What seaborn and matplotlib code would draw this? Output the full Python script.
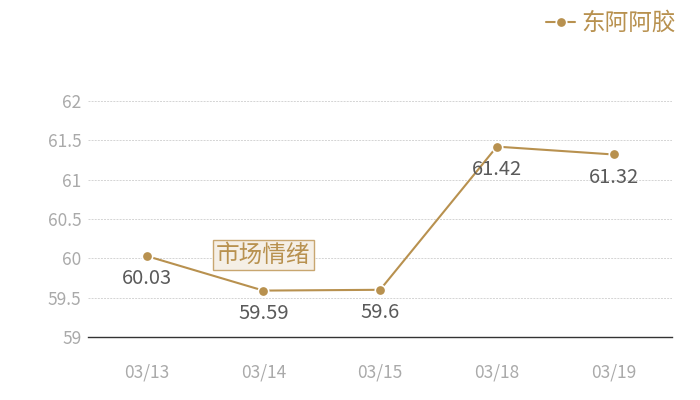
import matplotlib
matplotlib.use("Agg")
import matplotlib.pyplot as plt
import seaborn as sns
import pandas as pd

dates = ["03/13", "03/14", "03/15", "03/18", "03/19"]
values = [60.03, 59.59, 59.6, 61.42, 61.32]
series_name = "东阿阿胶"
yticks = [59, 59.5, 60, 60.5, 61, 61.5, 62]
note_text = "市场情绪"
note_pos = ("03/14", 60.04)

sns.set_theme(style="white")
plt.rcParams['font.family'] = ['Noto Sans CJK SC', 'DejaVu Sans']

gold = "#b8914f"
df = pd.DataFrame({"date": dates, "value": values})

fig = plt.figure(figsize=(7, 4), dpi=100)
ax = fig.add_axes([0.126, 0.1575, 0.834, 0.59])

sns.lineplot(data=df, x="date", y="value", ax=ax, color=gold, linewidth=1.5,
             marker="o", markersize=7.5, markeredgecolor="white", markeredgewidth=1.2,
             label=series_name, sort=False)

ax.set_xlim(-0.5, len(dates) - 0.5)
ax.set_ylim(59, 62)
ax.set_yticks(yticks)
ax.set_yticklabels([f"{t:g}" for t in yticks])
ax.set_xlabel("")
ax.set_ylabel("")
for t in yticks[1:]:
    ax.axhline(t, color="#d4d4d4", linewidth=0.7, linestyle=(0, (2, 1.2)), zorder=0)
for s in ["top", "right", "left"]:
    ax.spines[s].set_visible(False)
ax.spines["bottom"].set_color("#333333")
ax.spines["bottom"].set_linewidth(1)
ax.tick_params(axis="both", length=0, labelsize=12.5, labelcolor="#aaaaaa")
ax.tick_params(axis="x", pad=19)
ax.tick_params(axis="y", pad=5)

for i, (d, v) in enumerate(zip(dates, values)):
    ax.annotate(f"{v:g}", (i, v), xytext=(0, -16.5), textcoords="offset points",
                ha="center", va="center", fontsize=14.5, color="#5a5a5a")

ax.text(dates.index(note_pos[0]), note_pos[1], note_text, ha="center", va="center",
        fontsize=17, color=gold,
        bbox=dict(boxstyle="square,pad=0.15", facecolor="#f5efe6", edgecolor="#c8a670", linewidth=1))

leg = ax.legend(loc="upper right", bbox_to_anchor=(0.983, 1.0), bbox_transform=fig.transFigure,
                frameon=False, fontsize=17, handlelength=1.2, handletextpad=0.3,
                borderaxespad=0.1)
for t in leg.get_texts():
    t.set_color(gold)

fig.savefig("out.png", dpi=100)
